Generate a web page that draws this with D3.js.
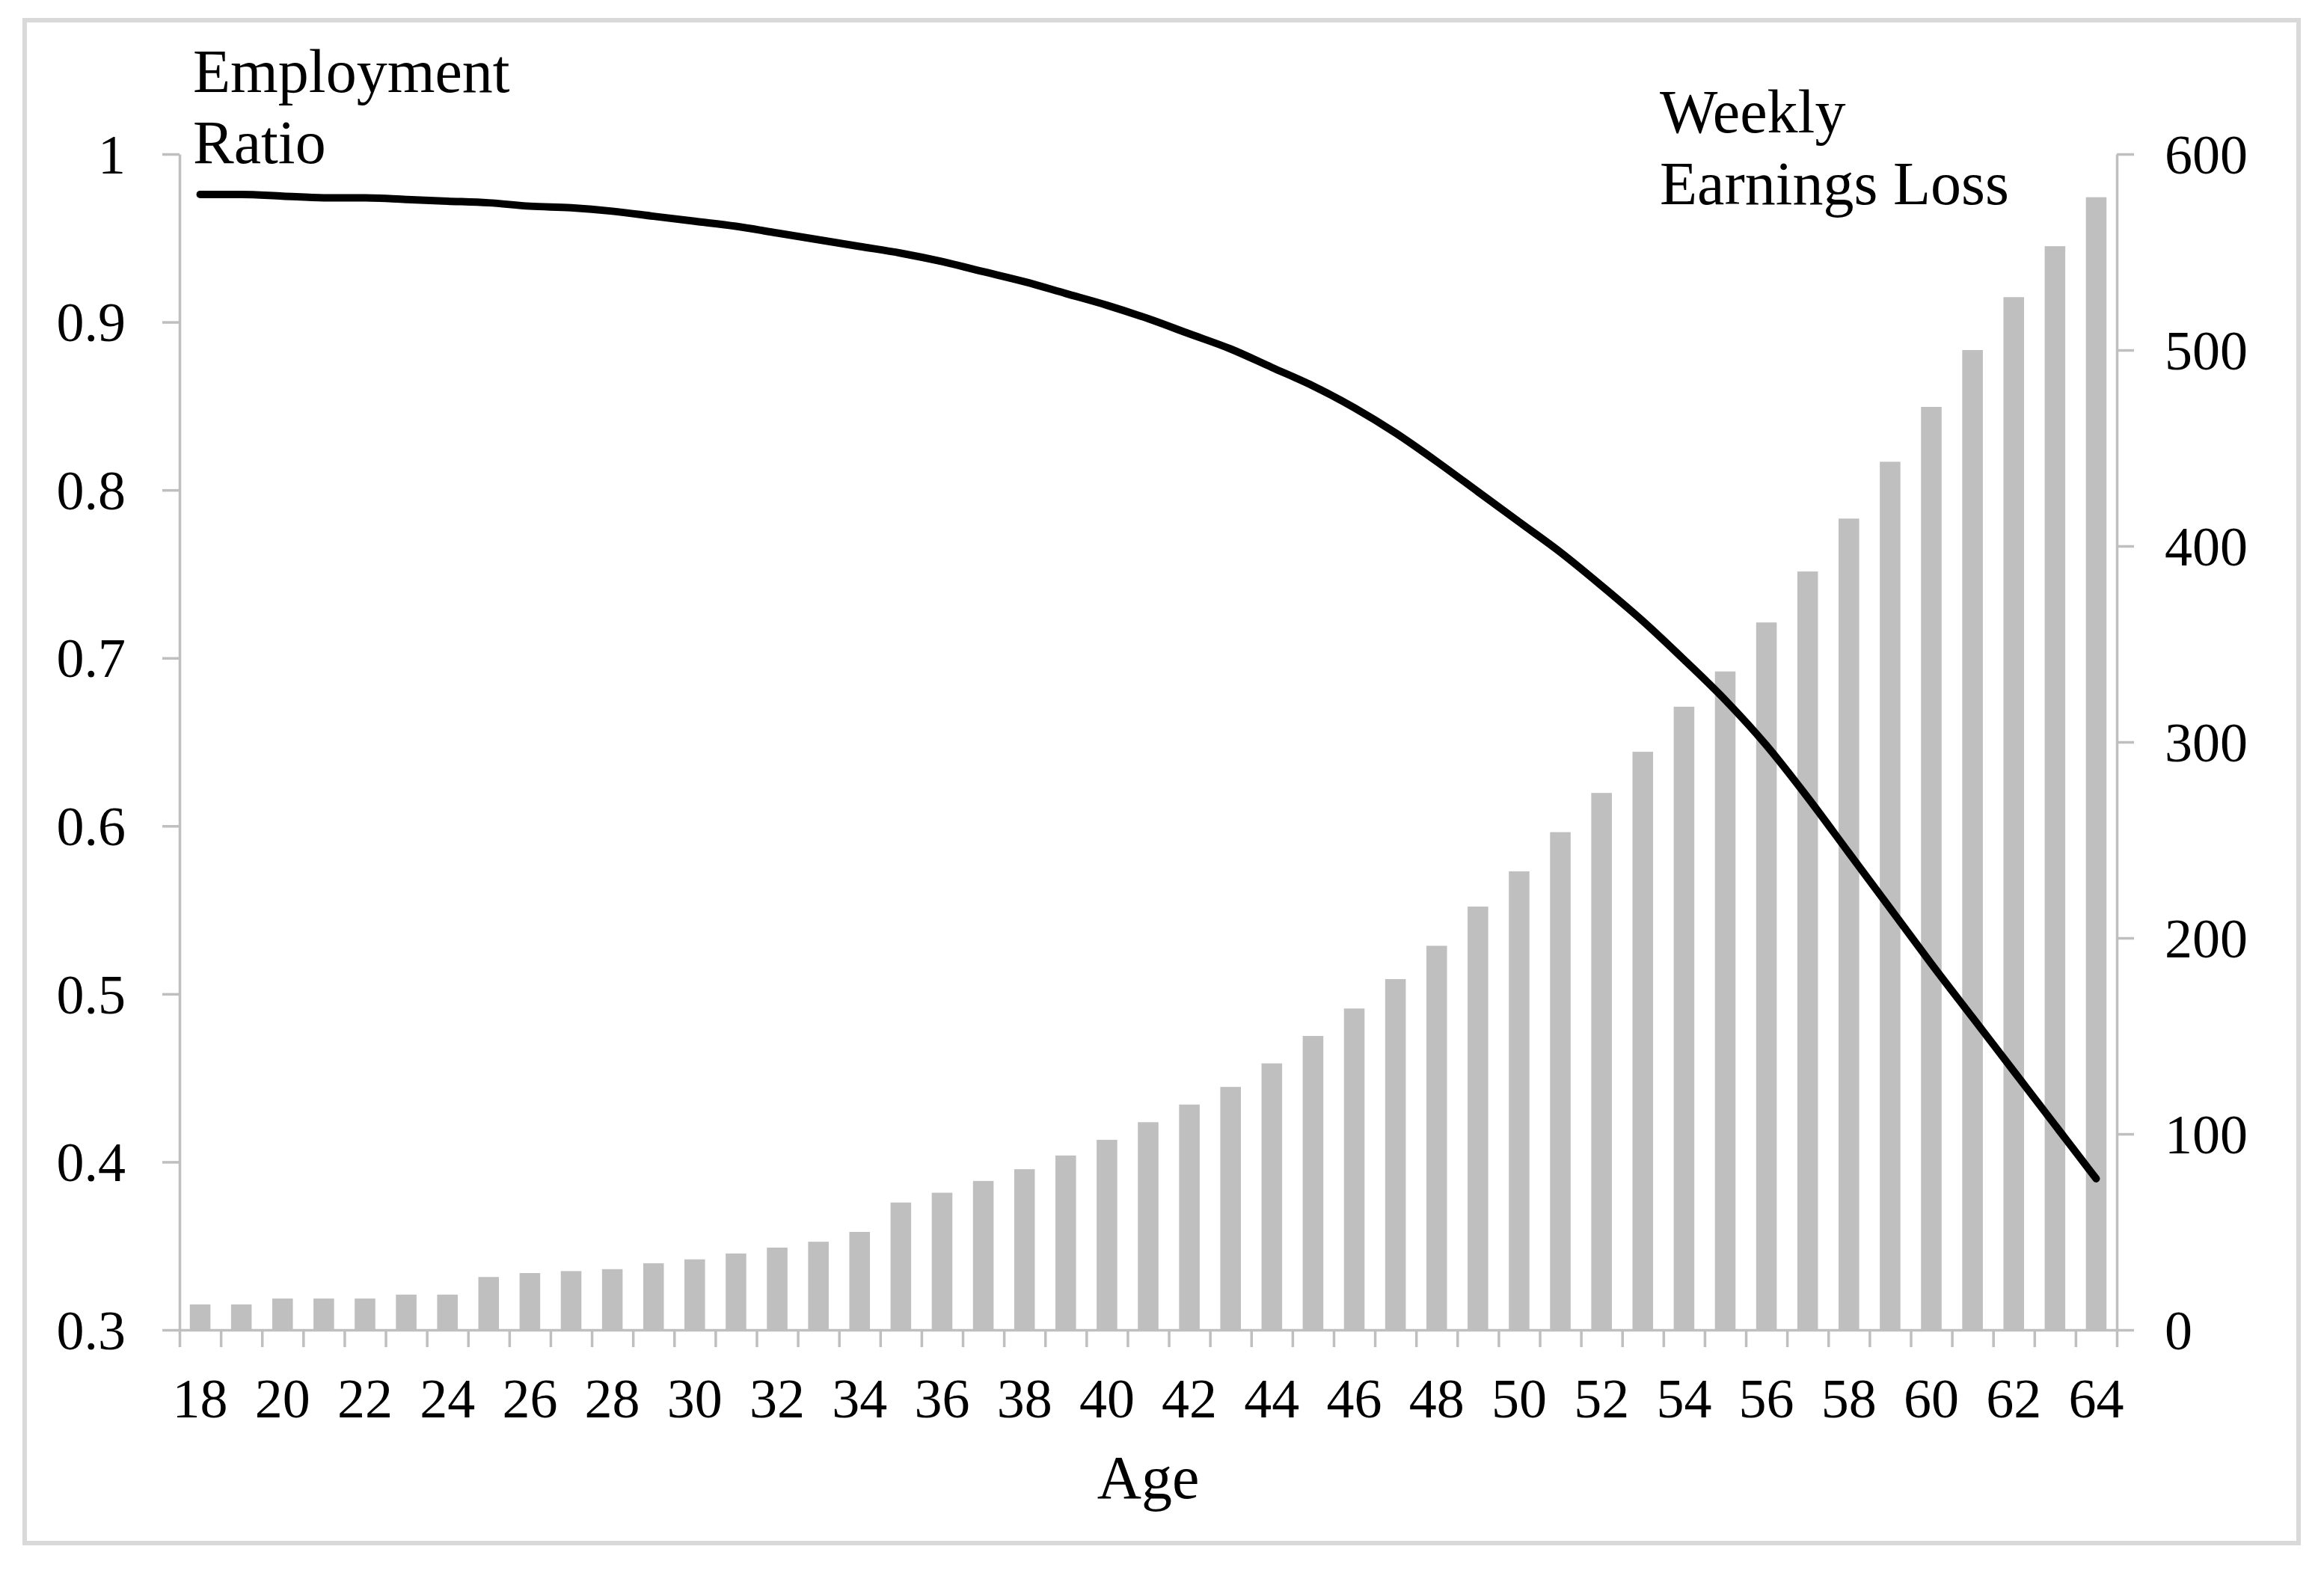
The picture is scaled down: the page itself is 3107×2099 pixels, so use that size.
<!DOCTYPE html>
<html><head><meta charset="utf-8">
<script src="https://cdn.jsdelivr.net/npm/d3@7"></script>
<style>
html,body{margin:0;padding:0;background:#fff;}
svg{display:block;}
text{font-family:"Liberation Serif","Times New Roman",Times,serif;fill:#000;}
</style>
</head><body>
<svg id="chart" width="3107" height="2099"></svg>
<script>
const ages = [18,19,20,21,22,23,24,25,26,27,28,29,30,31,32,33,34,35,36,37,38,39,40,41,42,43,44,45,46,47,48,49,50,51,52,53,54,55,56,57,58,59,60,61,62,63,64];
const employmentRatio = [0.976,0.976,0.975,0.974,0.974,0.973,0.972,0.971,0.969,0.968,0.966,0.963,0.960,0.957,0.953,0.949,0.945,0.941,0.936,0.930,0.924,0.917,0.910,0.902,0.893,0.884,0.873,0.862,0.849,0.834,0.817,0.799,0.781,0.763,0.743,0.722,0.699,0.675,0.648,0.617,0.584,0.551,0.518,0.486,0.454,0.422,0.390];
const weeklyEarningsLoss = [13,13,16,16,16,18,18,27,29,30,31,34,36,39,42,45,50,65,70,76,82,89,97,106,115,124,136,150,164,179,196,216,234,254,274,295,318,336,361,387,414,443,471,500,527,553,578];
const leftTicks = [0.3,0.4,0.5,0.6,0.7,0.8,0.9,1];
const leftTickLabels = ["0.3","0.4","0.5","0.6","0.7","0.8","0.9","1"];
const rightTicks = [0,100,200,300,400,500,600];
const rightTickLabels = ["0","100","200","300","400","500","600"];
const xLabelAges = [18,20,22,24,26,28,30,32,34,36,38,40,42,44,46,48,50,52,54,56,58,60,62,64];
const leftTitle = ["Employment","Ratio"];
const rightTitle = ["Weekly","Earnings Loss"];
const xTitle = "Age";

const L = 240, R = 2830, T = 206, B = 1778;
const axisColor = "#bfbfbf";
const svg = d3.select("#chart");

svg.append("rect").attr("x",0).attr("y",0).attr("width",3107).attr("height",2099).attr("fill","#fff");
svg.append("rect").attr("x",33).attr("y",27).attr("width",3040).attr("height",2036)
  .attr("fill","none").attr("stroke","#d9d9d9").attr("stroke-width",6);

const x = d3.scaleBand().domain(ages).range([L,R]).paddingInner(0.5).paddingOuter(0.25);
const yL = d3.scaleLinear().domain([0.3,1]).range([B,T]);
const yR = d3.scaleLinear().domain([0,600]).range([B,T]);
const edge = d3.scaleLinear().domain([ages[0]-0.5, ages[ages.length-1]+0.5]).range([L,R]);

// bars
svg.append("g").selectAll("rect").data(ages).join("rect")
  .attr("x", (d,i)=>x(d)).attr("width", x.bandwidth())
  .attr("y", (d,i)=>yR(weeklyEarningsLoss[i]))
  .attr("height", (d,i)=>B - yR(weeklyEarningsLoss[i]))
  .attr("fill","#bfbfbf");

function styleAxis(g){
  g.selectAll("path.domain").attr("stroke",axisColor).attr("stroke-width",3.5);
  g.selectAll(".tick line").attr("stroke",axisColor).attr("stroke-width",3.5);
  g.selectAll(".tick text").attr("fill","#000").style("font-family",'"Liberation Serif","Times New Roman",serif');
}

// left axis
const gL = svg.append("g").attr("transform",`translate(${L},0)`)
  .call(d3.axisLeft(yL).tickValues(leftTicks).tickFormat((d,i)=>leftTickLabels[i]).tickSize(23).tickSizeOuter(0).tickPadding(49));
styleAxis(gL);
gL.selectAll(".tick text").attr("font-size",74).attr("dy","0.34em");

// right axis
const gR = svg.append("g").attr("transform",`translate(${R},0)`)
  .call(d3.axisRight(yR).tickValues(rightTicks).tickFormat((d,i)=>rightTickLabels[i]).tickSize(23).tickSizeOuter(0).tickPadding(41));
styleAxis(gR);
gR.selectAll(".tick text").attr("font-size",74).attr("dy","0.34em");

// bottom axis: ticks at category boundaries
const edges = ages.map(a=>a-0.5).concat([ages[ages.length-1]+0.5]);
const gB = svg.append("g").attr("transform",`translate(0,${B})`)
  .call(d3.axisBottom(edge).tickValues(edges).tickFormat("").tickSize(23).tickSizeOuter(0));
styleAxis(gB);

// bottom labels
const gBL = svg.append("g").attr("transform",`translate(0,${B})`)
  .call(d3.axisBottom(x).tickValues(xLabelAges).tickSize(0).tickPadding(0));
gBL.select("path.domain").remove();
gBL.selectAll(".tick text").attr("font-size",74).attr("y",117).attr("dy",0).attr("fill","#000");

// line
const line = d3.line()
  .x((d,i)=>x(ages[i]) + x.bandwidth()/2)
  .y(d=>yL(d))
  .curve(d3.curveMonotoneX);
svg.append("path").datum(employmentRatio).attr("d",line)
  .attr("fill","none").attr("stroke","#000").attr("stroke-width",10)
  .attr("stroke-linecap","round").attr("stroke-linejoin","round");

// titles
const tl = svg.append("text").attr("font-size",82);
leftTitle.forEach((t,i)=>tl.append("tspan").attr("x",258).attr("y",123+i*95).text(t));
const tr = svg.append("text").attr("font-size",82);
rightTitle.forEach((t,i)=>tr.append("tspan").attr("x",2219).attr("y",177+i*96).text(t));
svg.append("text").attr("font-size",82).attr("text-anchor","middle")
  .attr("x",(L+R)/2).attr("y",2003).text(xTitle);
</script>
</body></html>
